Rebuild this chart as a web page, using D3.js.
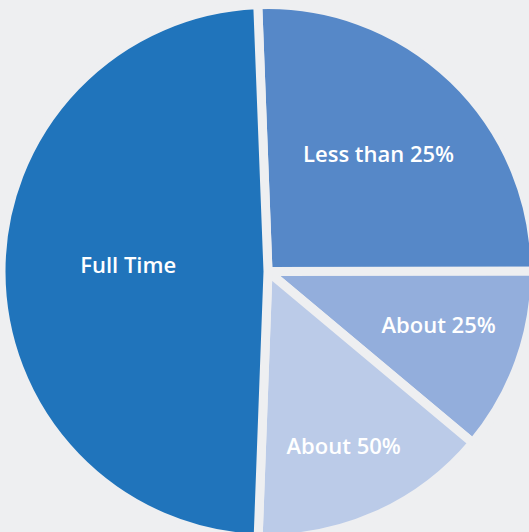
<!DOCTYPE html>
<html>
<head>
<meta charset="utf-8">
<script src="https://cdn.jsdelivr.net/npm/d3@7"></script>
<style>
  html, body { margin: 0; padding: 0; background: #eeeff1; overflow: hidden; }
  svg { display: block; }
</style>
</head>
<body>
<svg id="chart" width="529" height="532"></svg>
<script>
// ---- data ----
const categories = ["Less than 25%", "About 25%", "About 50%", "Full Time"];
const values = [25.6, 11.1, 14.5, 48.8];
const colors = ["#5688c8", "#93aedc", "#bbcbe8", "#2074bb"];

// ---- layout / style ----
const W = 529, H = 532;
const cx = 268, cy = 271.5;
const gap = 9;                 // visible gap between slices
const R = 262.5 + gap / 2;     // outer radius (stroke eats half the gap)
const bg = "#eeeff1";
const startDeg = -2.2;
// label placement: radius (px) and angle nudge (deg) from slice bisector
const labelPlace = {
  "Less than 25%": { r: 161, da: -0.5 },
  "About 25%":     { r: 179, da: -2.4 },
  "About 50%":     { r: 190, da: 0.5 },
  "Full Time":     { r: 140, da: 2.8 }
};

const svg = d3.select("#chart");
svg.append("rect").attr("width", W).attr("height", H).attr("fill", bg);

const data = categories.map((c, i) => ({ cat: c, value: values[i], color: colors[i] }));
const toRad = d => d * Math.PI / 180;

const pie = d3.pie()
  .sort(null)
  .value(d => d.value)
  .startAngle(toRad(startDeg))
  .endAngle(toRad(startDeg + 360));

const arcs = pie(data);
const arc = d3.arc().innerRadius(0).outerRadius(R);

const g = svg.append("g").attr("transform", `translate(${cx},${cy})`);

g.selectAll("path.slice")
  .data(arcs)
  .join("path")
  .attr("class", "slice")
  .attr("d", arc)
  .attr("fill", d => d.data.color)
  .attr("stroke", bg)
  .attr("stroke-width", gap)
  .attr("stroke-linejoin", "miter");

g.selectAll("text.label")
  .data(arcs)
  .join("text")
  .attr("class", "label")
  .attr("x", d => {
    const p = labelPlace[d.data.cat];
    const a = (d.startAngle + d.endAngle) / 2 + toRad(p.da);
    return p.r * Math.sin(a);
  })
  .attr("y", d => {
    const p = labelPlace[d.data.cat];
    const a = (d.startAngle + d.endAngle) / 2 + toRad(p.da);
    return -p.r * Math.cos(a);
  })
  .attr("dy", "0.36em")
  .attr("text-anchor", "middle")
  .attr("fill", "#ffffff")
  .style("font-family", "'Open Sans', 'DejaVu Sans', sans-serif")
  .style("font-weight", "600")
  .style("font-size", "22px")
  .text(d => d.data.cat);
</script>
</body>
</html>
